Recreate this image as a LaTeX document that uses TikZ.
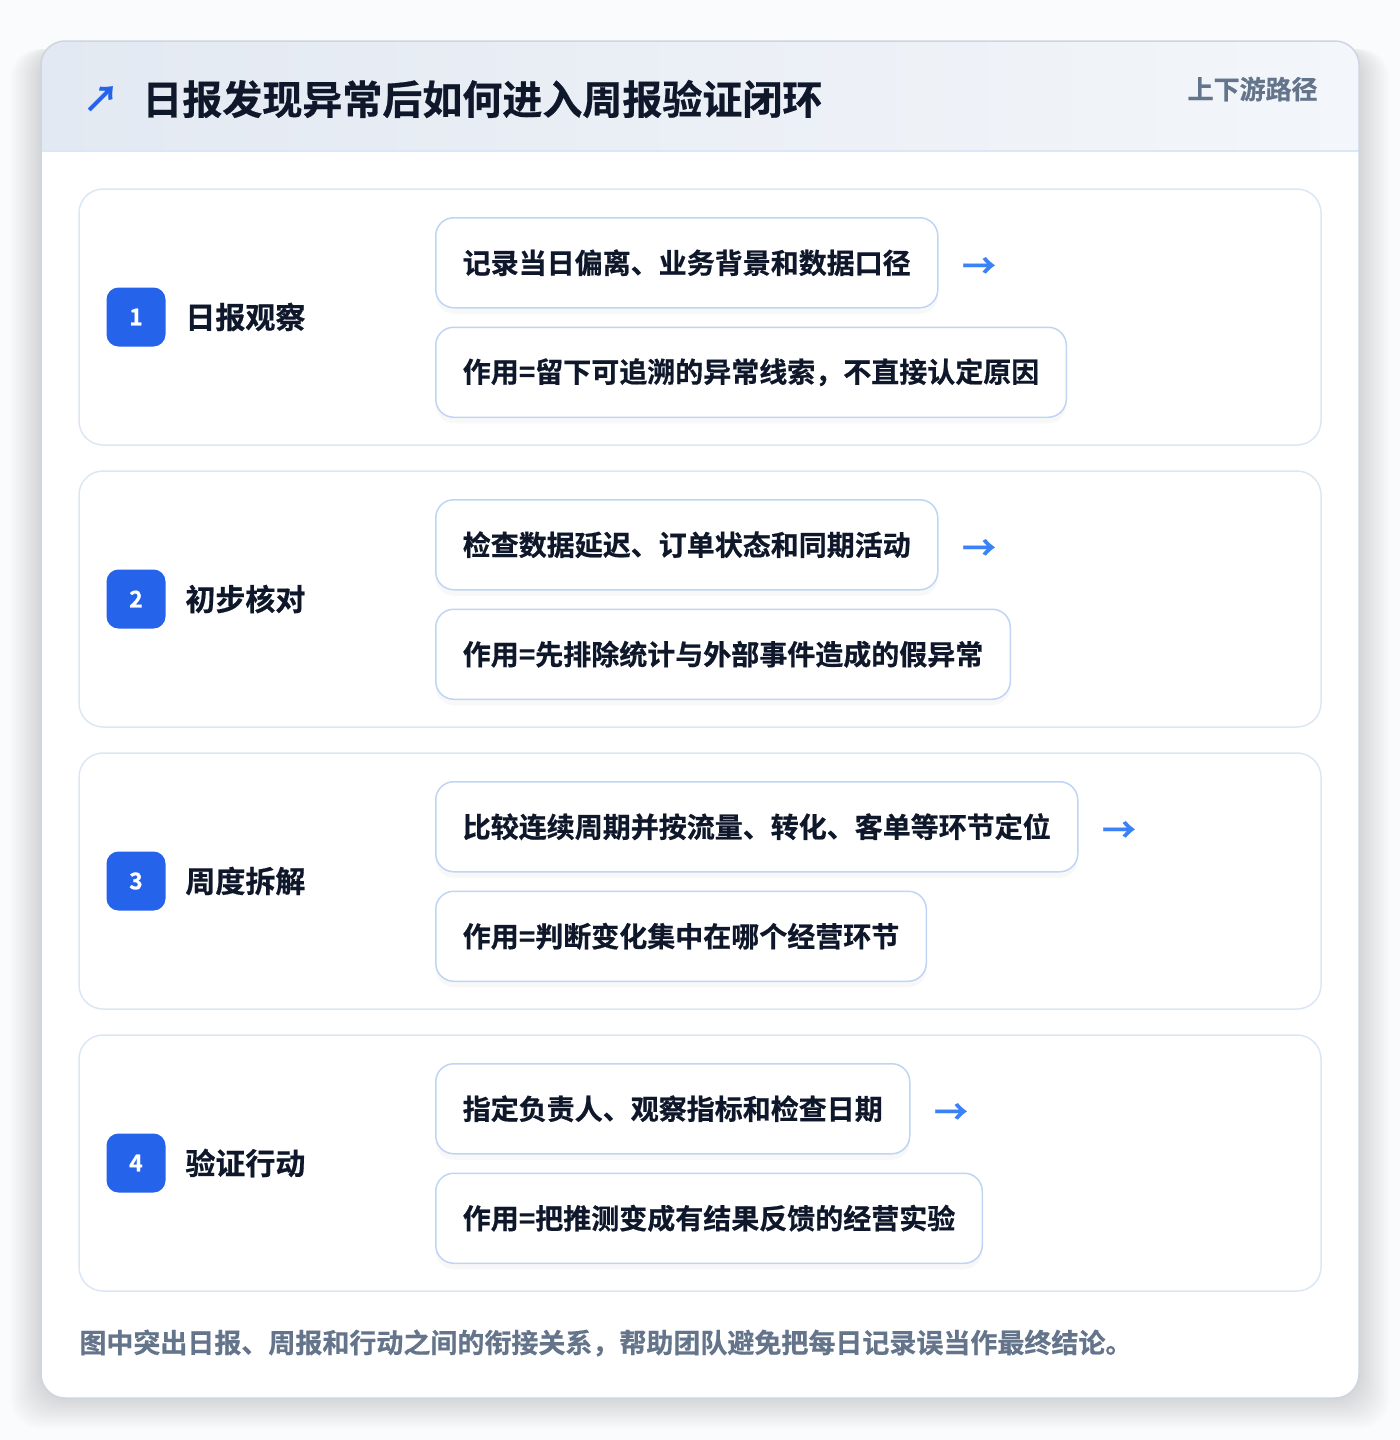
\documentclass[tikz,border=0pt]{standalone}
\usepackage{fontspec}
\setmainfont{Noto Sans CJK SC}[BoldFont={* Bold},BoldFeatures={FakeBold=0.6}]
\usetikzlibrary{positioning,shadows}
\definecolor{ink}{HTML}{0F172A}
\definecolor{slate}{HTML}{64748B}
\definecolor{accent}{HTML}{2563EB}
\definecolor{arrowblue}{HTML}{3B82F6}
\definecolor{panelline}{HTML}{DCE7F6}
\definecolor{boxline}{HTML}{BFD5F3}
\definecolor{cardline}{HTML}{CDD6E2}
\definecolor{headleft}{HTML}{E3E9F2}
\definecolor{headright}{HTML}{F3F6FA}
\definecolor{pagebg}{HTML}{FAFBFC}
\begin{document}
\begin{tikzpicture} [
  x=0.5pt, y=-0.5pt,
  step panel/.style= {draw=panelline,line width=0.75pt,fill=white,rounded corners=12pt,
    minimum width=621pt,minimum height=128pt,inner sep=0pt},
  step badge/.style= {fill=accent,rounded corners=6pt,minimum size=29.5pt,inner sep=0pt,
    text=white,font=\fontsize{11.5}{13}\selectfont\bfseries},
  step label/.style= {anchor=west,inner sep=0pt,text=ink,font=\fontsize{15}{18}\selectfont\bfseries},
  task box/.style= {draw=boxline,line width=0.75pt,fill=white,rounded corners=9pt,
    minimum height=45pt,inner xsep=13.5pt,inner ysep=0pt,text=ink,
    font=\fontsize{14}{17}\selectfont\bfseries,
    drop shadow={opacity=0.05,shadow xshift=0pt,shadow yshift=-3pt}},
  flow arrow/.style= {inner sep=0pt,text=arrowblue,font=\fontsize{17}{18}\selectfont\bfseries},
]
% page and card
\fill[pagebg] (0,0) rectangle (1400,1440);
\useasboundingbox (0,0) rectangle (1400,1440);
\foreach \s in {1,...,12}
  \fill[black,opacity=0.01,rounded corners=14pt] (41-2.5*\s,41+8) rectangle (1359+2.5*\s,1398+2.5*\s);
\fill[white,rounded corners=12pt] (41,41) rectangle (1359,1398);
\begin{scope}
  \clip[rounded corners=12pt] (41,41) rectangle (1359,1398);
  \shade[left color=headleft,right color=headright] (41,41) rectangle (1359,151);
  \draw[panelline,line width=0.75pt] (41,151) -- (1359,151);
\end{scope}
\draw[cardline,line width=0.75pt,rounded corners=12pt] (41,41) rectangle (1359,1398);

% header
\node (icon) at (101,99) [inner sep=0pt,text=accent,font=\fontsize{18}{18}\selectfont\bfseries] {↗};
\node (title) at (142,99) [anchor=west,inner sep=0pt,text=ink,font=\fontsize{20}{24}\selectfont\bfseries]
  {日报发现异常后如何进入周报验证闭环};
\node (tag) at (1318,89) [anchor=east,inner sep=0pt,text=slate,font=\fontsize{13}{16}\selectfont\bfseries]
  {上下游路径};

% step 1
\node (P1) at (700,317) [step panel] {};
\node (B1) at (136,317) [step badge] {1};
\node (L1) at (185,317) [step label] {日报观察};
\node (T1) at (435,217) [task box,anchor=north west] {记录当日偏离、业务背景和数据口径};
\node (A1) [flow arrow,right=11.5pt of T1,yshift=-2.5pt] {→};
\node (R1) [task box,below right=9pt and 0pt of T1.south west] {作用=留下可追溯的异常线索，不直接认定原因};

% step 2
\node (P2) at (700,599) [step panel] {};
\node (B2) at (136,599) [step badge] {2};
\node (L2) at (185,599) [step label] {初步核对};
\node (T2) at (435,499) [task box,anchor=north west] {检查数据延迟、订单状态和同期活动};
\node (A2) [flow arrow,right=11.5pt of T2,yshift=-2.5pt] {→};
\node (R2) [task box,below right=9pt and 0pt of T2.south west] {作用=先排除统计与外部事件造成的假异常};

% step 3
\node (P3) at (700,881) [step panel] {};
\node (B3) at (136,881) [step badge] {3};
\node (L3) at (185,881) [step label] {周度拆解};
\node (T3) at (435,781) [task box,anchor=north west] {比较连续周期并按流量、转化、客单等环节定位};
\node (A3) [flow arrow,right=11.5pt of T3,yshift=-2.5pt] {→};
\node (R3) [task box,below right=9pt and 0pt of T3.south west] {作用=判断变化集中在哪个经营环节};

% step 4
\node (P4) at (700,1163) [step panel] {};
\node (B4) at (136,1163) [step badge] {4};
\node (L4) at (185,1163) [step label] {验证行动};
\node (T4) at (435,1063) [task box,anchor=north west] {指定负责人、观察指标和检查日期};
\node (A4) [flow arrow,right=11.5pt of T4,yshift=-2.5pt] {→};
\node (R4) [task box,below right=9pt and 0pt of T4.south west] {作用=把推测变成有结果反馈的经营实验};

% footer
\node (note) at (79,1343) [anchor=west,inner sep=0pt,text=slate,font=\fontsize{13.5}{16}\selectfont\bfseries]
  {图中突出日报、周报和行动之间的衔接关系，帮助团队避免把每日记录误当作最终结论。};
\end{tikzpicture}
\end{document}
